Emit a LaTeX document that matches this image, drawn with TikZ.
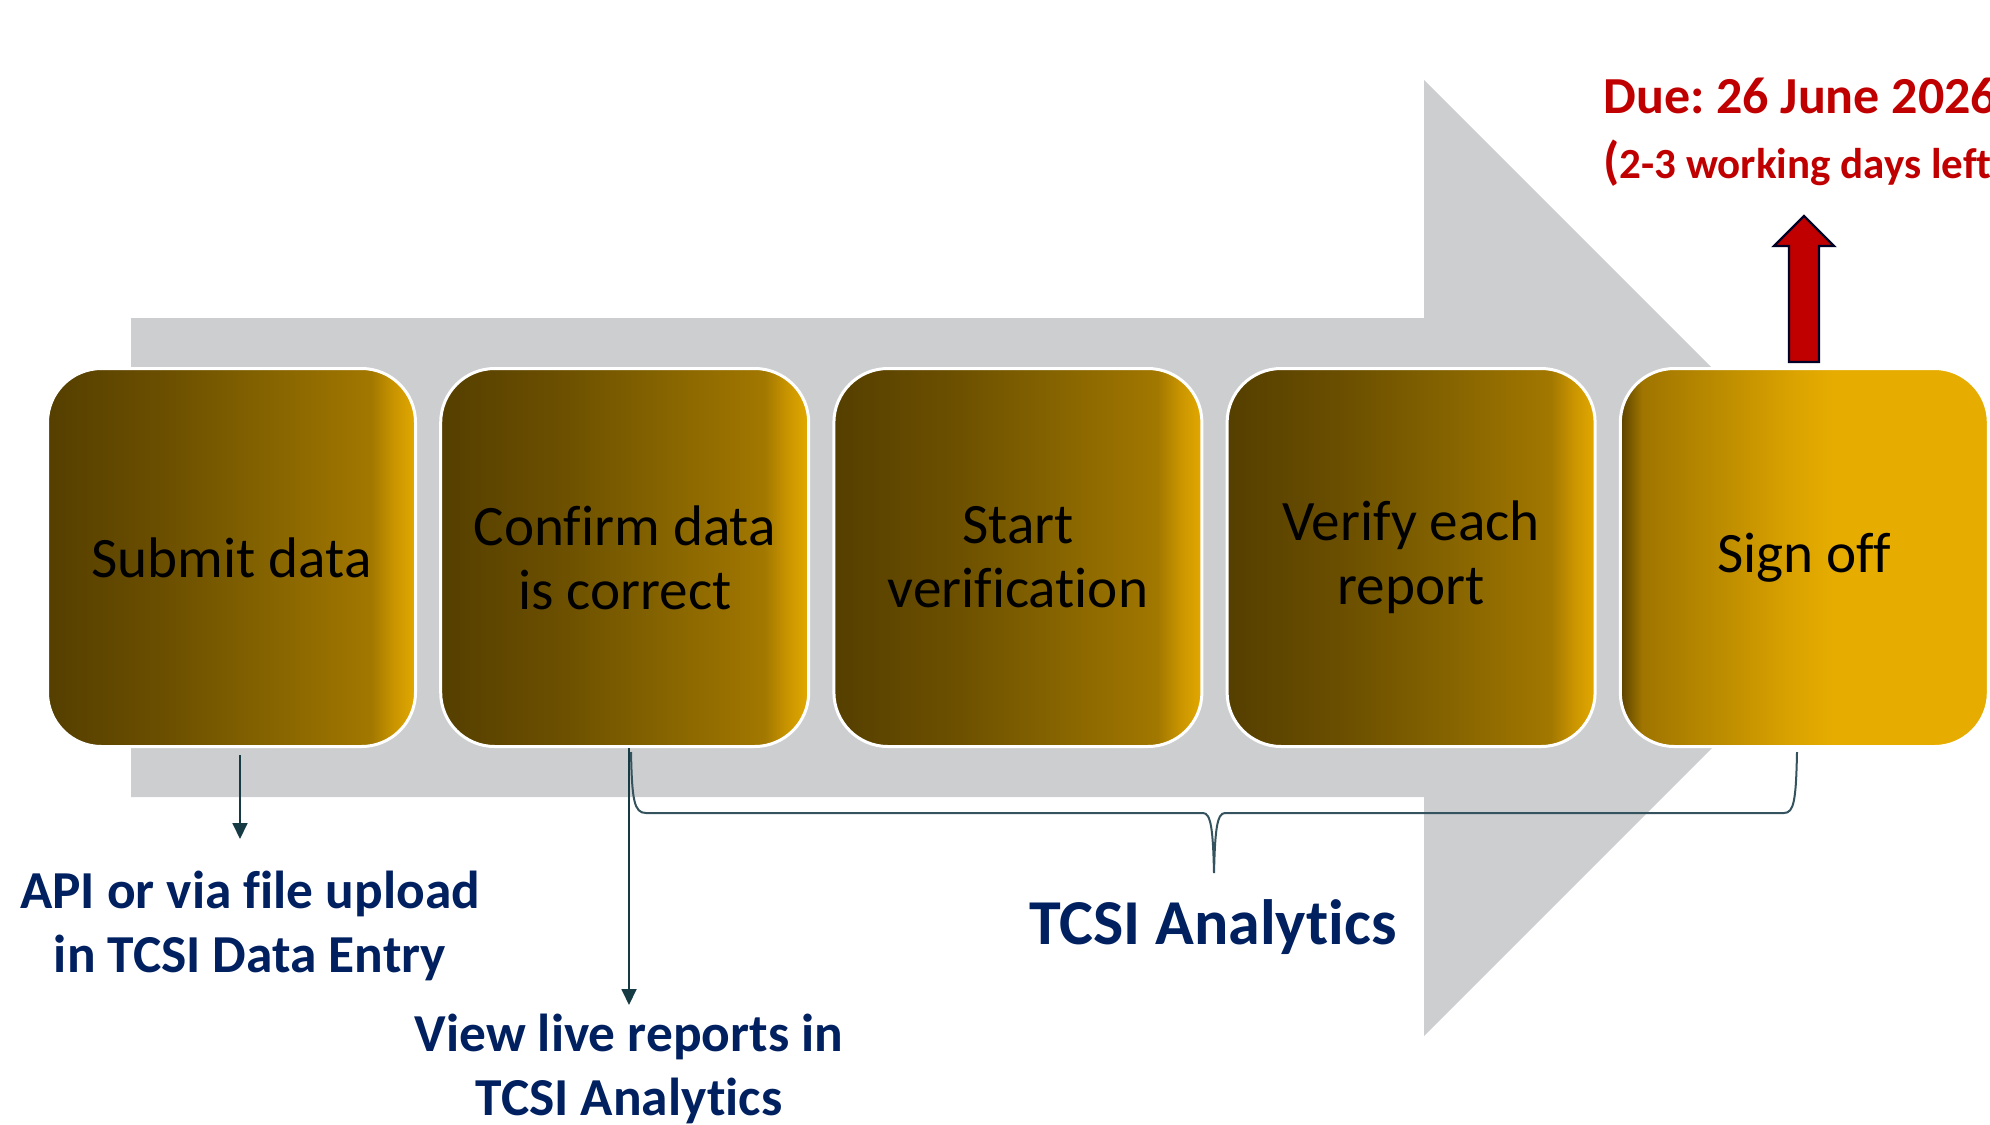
\documentclass[tikz,border=0pt]{standalone}
\usepackage{fontspec}
\setmainfont{Carlito}[Ligatures=NoCommon]
\frenchspacing
\usetikzlibrary{arrows.meta}
\usetikzlibrary{positioning}

\definecolor{arrowgray}{HTML}{CDCED0}
\definecolor{navytext}{HTML}{002060}
\definecolor{duered}{HTML}{C00000}
\definecolor{linkteal}{HTML}{173B45}
\definecolor{bracegray}{HTML}{34535E}
\definecolor{gA}{HTML}{553F00}
\definecolor{gB}{HTML}{6A4E00}
\definecolor{gC}{HTML}{806000}
\definecolor{gD}{HTML}{9C7300}
\definecolor{gE}{HTML}{A27800}
\definecolor{gF}{HTML}{C99400}
\definecolor{gG}{HTML}{E3A900}
\definecolor{hA}{HTML}{5A4300}
\definecolor{hB}{HTML}{A07500}
\definecolor{hC}{HTML}{B98A00}
\definecolor{hD}{HTML}{DCA400}
\definecolor{hE}{HTML}{E6AC00}

\pgfdeclarehorizontalshading{goldstep}{100bp}{color(0bp)=(gA); color(25bp)=(gA); color(40bp)=(gB); color(52.5bp)=(gC); color(66bp)=(gD); color(69bp)=(gE); color(72bp)=(gF); color(75bp)=(gG); color(100bp)=(gG)}
\pgfdeclarehorizontalshading{goldlast}{100bp}{color(0bp)=(hA); color(25bp)=(hA); color(28bp)=(hB); color(37.5bp)=(hC); color(49bp)=(hD); color(54bp)=(hE); color(100bp)=(hE)}

\begin{document}
\begin{tikzpicture}[x=0.5pt,y=-0.5pt,
	stepbox/.style={draw=white,line width=1.5pt,rounded corners=27pt,shade,shading=goldstep,
		minimum width=184pt,minimum height=189pt,inner sep=0pt,align=center,
		font=\fontsize{28.6}{32}\selectfont},
	lastbox/.style={stepbox,shading=goldlast},
	note/.style={align=center,inner sep=0pt,text=navytext,font=\bfseries\fontsize{26.7}{32}\selectfont},
	bignote/.style={inner sep=0pt,text=navytext,font=\bfseries\fontsize{32}{36}\selectfont},
	duenote/.style={inner sep=0pt,text=duered,font=\bfseries\fontsize{26}{30}\selectfont},
	pointer/.style={-{Triangle[width=7.5pt,length=8pt]},draw=linkteal,line width=0.9pt},
	bracket/.style={draw=bracegray,line width=1pt}]
	\useasboundingbox (0,0) rectangle (1990,1124);
	\clip (0,0) rectangle (1990,1124);

	% big gray arrow behind the steps
	\fill[arrowgray] (131,318) -- (1424,318) -- (1424,80) -- (1902,558) -- (1424,1036) -- (1424,797) -- (131,797) -- cycle;

	% the five steps
	\node[stepbox] (s1) at (231.5,557.5) {Submit data};
	\node[stepbox,right=11.1pt of s1] (s2) {Confirm data\\is correct};
	\node[stepbox,right=11.1pt of s2] (s3) {Start\\verification};
	\node[stepbox,right=11.1pt of s3] (s4) {Verify each\\report};
	\node[lastbox,right=11.1pt of s4] (s5) {Sign off};

	% labels
	\node[note,anchor=base] (api) at (250,972) {API or via file upload\\in TCSI Data Entry};
	\node[note,anchor=base] (live) at (629,1115) {View live reports in\\TCSI Analytics};
	\node[bignote,anchor=base] (tcsi) at (1213,944) {TCSI Analytics};
	\node[duenote,anchor=base west] (due) at (1603,113) {Due: 26 June 2026};
	\node[duenote,anchor=base west,font=\bfseries\fontsize{21.5}{26}\selectfont] (daysleft) at (1603,178) {{\fontsize{26}{30}\selectfont(}2-3 working days left)};

	% pointers
	\coordinate (a1) at (240,839);
	\coordinate (a2) at (629,1005);
	\draw[pointer,shorten <=3.5pt] (s1.south -| a1) -- (a1);
	\draw[pointer] (s2.south -| a2) -- (a2);

	% brace under steps 2 to 5
	\draw[bracket] (631,752) .. controls (632,800) and (634,813) .. (646,813) -- (1203,813)
		.. controls (1211,813) and (1213,830) .. (1214,873)
		.. controls (1215,830) and (1217,813) .. (1225,813) -- (1784,813)
		.. controls (1794,813) and (1796,800) .. (1797,752);

	% red arrow to the due date
	\draw[fill=duered,draw=black!85!blue,line width=1.2pt,line join=miter]
		(1789,362) -- (1789,246) -- (1774,246) -- (1804,216) -- (1834,246) -- (1819,246) -- (1819,362) -- cycle;
\end{tikzpicture}
\end{document}
